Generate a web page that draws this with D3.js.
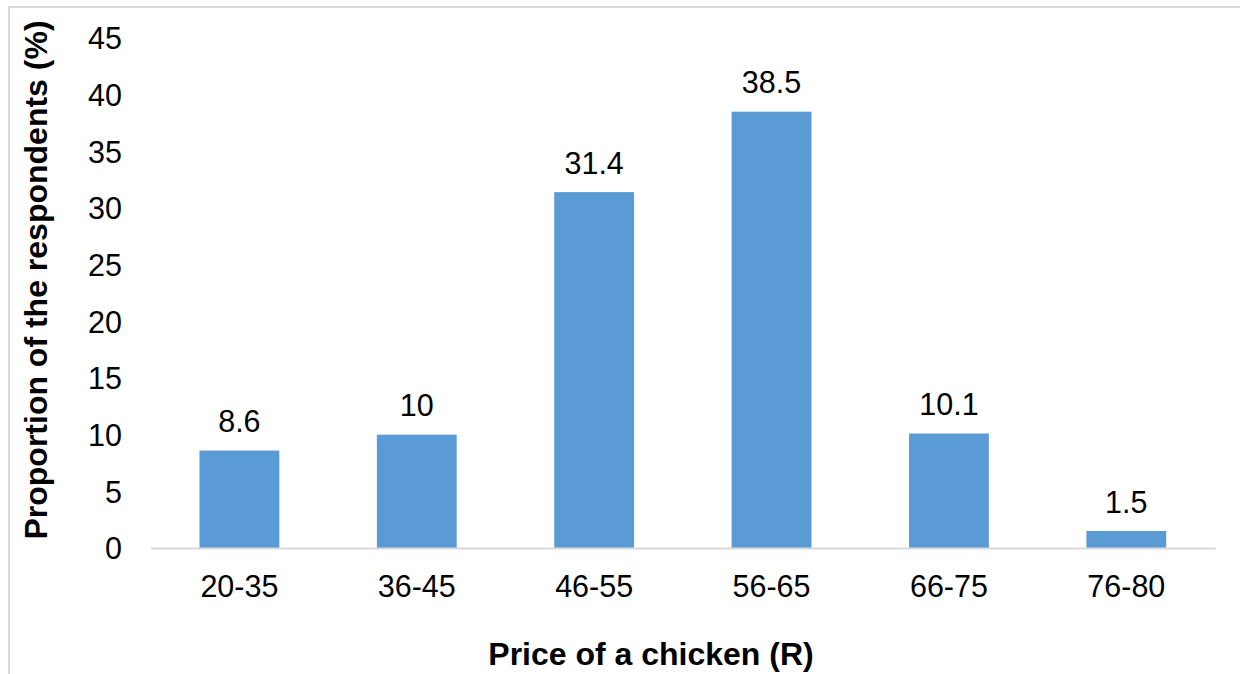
<!DOCTYPE html>
<html>
<head>
<meta charset="utf-8">
<script src="https://cdn.jsdelivr.net/npm/d3@7"></script>
<style>
  html, body { margin: 0; padding: 0; background: #fff; }
  svg { display: block; }
  text { font-family: "Liberation Sans", Arial, sans-serif; }
</style>
</head>
<body>
<svg id="chart" width="1240" height="674"></svg>
<script>
const categories = ["20-35", "36-45", "46-55", "56-65", "66-75", "76-80"];
const values = [8.6, 10, 31.4, 38.5, 10.1, 1.5];
const valueLabels = ["8.6", "10", "31.4", "38.5", "10.1", "1.5"];
const yTicks = [0, 5, 10, 15, 20, 25, 30, 35, 40, 45];
const xTitle = "Price of a chicken (R)";
const yTitle = "Proportion of the respondents (%)";

const svg = d3.select("#chart");
const W = 1240, H = 674;

svg.append("rect").attr("width", W).attr("height", H).attr("fill", "#fff");

// chart border (only top and left edges visible in crop)
svg.append("path")
  .attr("d", `M9,${H + 5} L9,7 L${W + 5},7`)
  .attr("fill", "none")
  .attr("stroke", "#d9d9d9")
  .attr("stroke-width", 2);

const x = d3.scaleBand()
  .domain(categories)
  .range([150.7, 1215])
  .paddingInner(0.55)
  .paddingOuter(0.275);

const y = d3.scaleLinear()
  .domain([0, 45])
  .range([548, 38]);

// y axis labels (no line, no ticks)
const yAxis = d3.axisLeft(y).tickValues(yTicks).tickSize(0).tickPadding(0);
const gy = svg.append("g").attr("transform", "translate(122,0)").call(yAxis);
gy.select(".domain").remove();
gy.selectAll("text")
  .attr("font-size", 30.5)
  .attr("fill", "#000")
  .attr("dy", "0.36em");

// bars
svg.append("g").selectAll("rect")
  .data(categories)
  .join("rect")
  .attr("x", d => x(d))
  .attr("y", (d, i) => y(values[i]))
  .attr("width", x.bandwidth())
  .attr("height", (d, i) => y(0) - y(values[i]))
  .attr("fill", "#5b9bd5");

// x axis
const xAxis = d3.axisBottom(x).tickSize(0).tickPadding(0);
const gx = svg.append("g").attr("transform", `translate(0,${y(0)})`).call(xAxis);
gx.select(".domain").attr("stroke", "#d9d9d9").attr("stroke-width", 2);
gx.selectAll("text")
  .attr("font-size", 30.5)
  .attr("fill", "#000")
  .attr("y", 49)
  .attr("dy", 0);

// data labels
svg.append("g").selectAll("text")
  .data(categories)
  .join("text")
  .attr("x", d => x(d) + x.bandwidth() / 2)
  .attr("y", (d, i) => y(values[i]) - 18.5)
  .attr("text-anchor", "middle")
  .attr("font-size", 30.5)
  .attr("fill", "#000")
  .text((d, i) => valueLabels[i]);

// axis titles
svg.append("text")
  .attr("x", 651)
  .attr("y", 665)
  .attr("text-anchor", "middle")
  .attr("font-size", 32)
  .attr("font-weight", "bold")
  .attr("fill", "#000")
  .text(xTitle);

svg.append("text")
  .attr("transform", "translate(47,280) rotate(-90)")
  .attr("text-anchor", "middle")
  .attr("font-size", 32)
  .attr("font-weight", "bold")
  .attr("fill", "#000")
  .text(yTitle);
</script>
</body>
</html>
